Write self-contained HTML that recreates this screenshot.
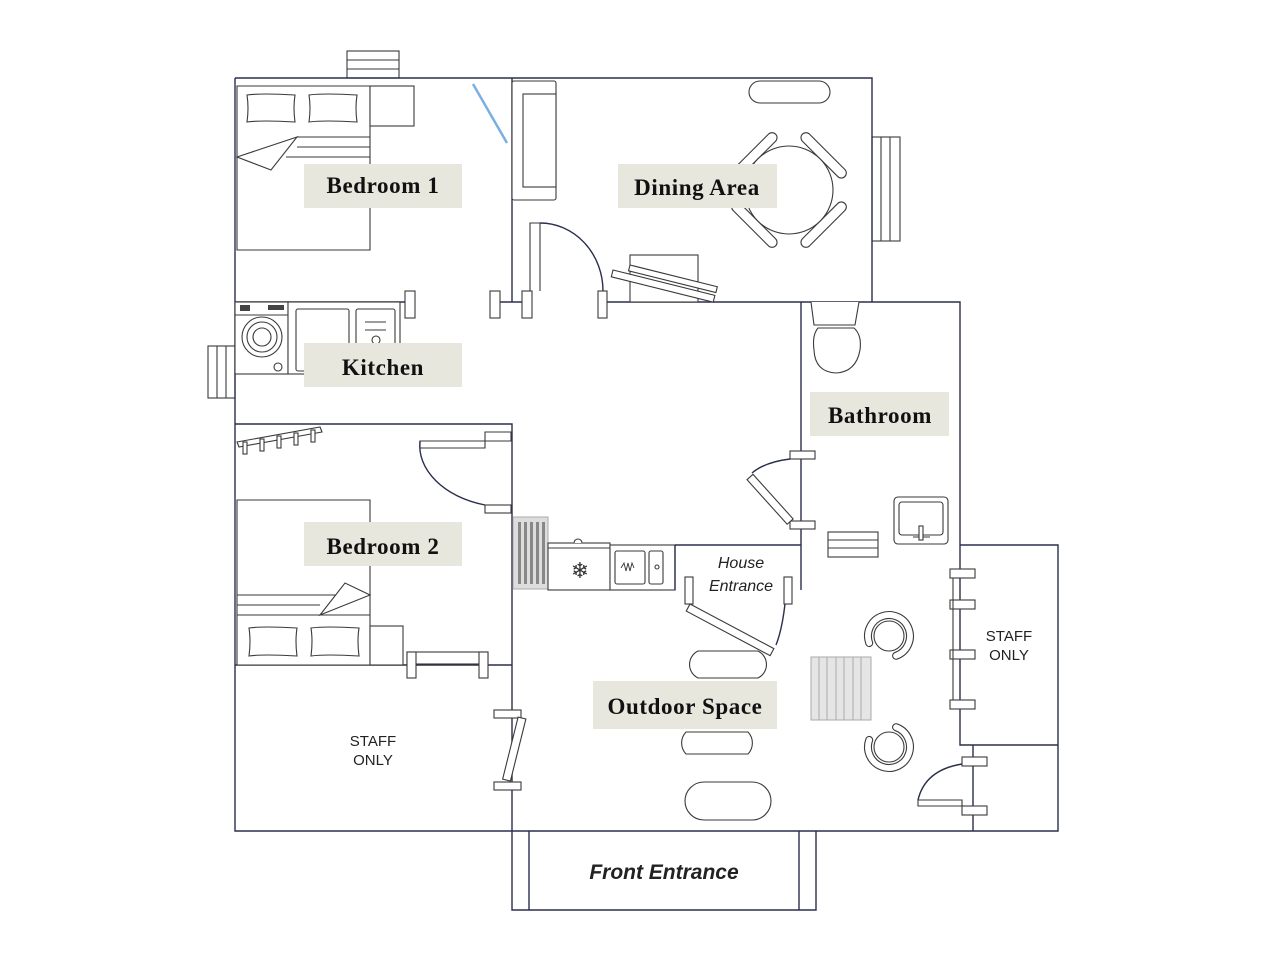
<!DOCTYPE html>
<html><head><meta charset="utf-8"><style>
html,body{margin:0;padding:0;background:#fff;}
svg{display:block}
.w{stroke:#2b2f4c;stroke-width:1.4;fill:none}
.f{stroke:#3a3a3a;stroke-width:1.1;fill:#fff}
.l{font-family:"Liberation Serif",serif;font-weight:bold;font-size:23px;letter-spacing:0.6px;fill:#111}
.lb{fill:#e7e7de}
.s{font-family:"Liberation Sans",sans-serif;font-size:15px;fill:#222}
.i{font-family:"Liberation Sans",sans-serif;font-style:italic;font-size:16px;fill:#222}
</style></head><body>
<svg width="1279" height="960" viewBox="0 0 1279 960" xmlns="http://www.w3.org/2000/svg">
<!-- windows -->
<rect class="f" x="347" y="51" width="52" height="27"/><line class="f" x1="347" y1="60" x2="399" y2="60"/><line class="f" x1="347" y1="69" x2="399" y2="69"/>
<rect class="f" x="872" y="137" width="28" height="104"/><line class="f" x1="881" y1="137" x2="881" y2="241"/><line class="f" x1="890" y1="137" x2="890" y2="241"/>
<rect class="f" x="208" y="346" width="27" height="52"/><line class="f" x1="217" y1="346" x2="217" y2="398"/><line class="f" x1="226" y1="346" x2="226" y2="398"/>
<rect class="f" x="828" y="532" width="50" height="25"/><line class="f" x1="828" y1="540" x2="878" y2="540"/><line class="f" x1="828" y1="548" x2="878" y2="548"/>

<!-- walls -->
<path class="w" d="M235 78 H872 V302 M235 78 V831 H1058 V545 H960 V302 H801 V590 M512 78 V302 M490 302 H525 M606 302 H872 M235 302 H405 M235 424 H512 V831 M235 665 H512 M960 545 V745 H1058 M973 745 V831 M675 545 H801 M512 831 V910 H816 V831 M529 831 V910 M799 831 V910"/>

<!-- Bedroom 1 -->
<path class="f" d="M237 86 H370 V250 H237 Z"/>
<rect class="f" x="370" y="86" width="44" height="40"/>
<path class="f" d="M247 95 Q262 93 295 95 Q293 108 295 122 Q262 120 247 122 Q249 108 247 95Z"/>
<path class="f" d="M309 95 Q324 93 357 95 Q355 108 357 122 Q324 120 309 122 Q311 108 309 95Z"/>
<path class="f" d="M297 137 H370 M297 147 H370 M286 157 H370"/>
<path class="f" d="M297 137 L237 157 L271 170 L297 137Z"/>
<line x1="473" y1="84" x2="507" y2="143" stroke="#7ab0e0" stroke-width="2.5"/>
<!-- Dining -->
<rect class="f" x="512" y="81" width="44" height="119" rx="2"/><rect class="f" x="523" y="94" width="33" height="93"/>
<rect class="f" x="749" y="81" width="81" height="22" rx="11"/>
<g transform="translate(789,190)">
<g transform="rotate(45)"><rect class="f" x="-49" y="-8" width="14" height="16" /><rect class="f" x="-54" y="-30" width="10" height="60" rx="5"/></g>
<g transform="rotate(135)"><rect class="f" x="-49" y="-8" width="14" height="16" /><rect class="f" x="-54" y="-30" width="10" height="60" rx="5"/></g>
<g transform="rotate(225)"><rect class="f" x="-49" y="-8" width="14" height="16" /><rect class="f" x="-54" y="-30" width="10" height="60" rx="5"/></g>
<g transform="rotate(315)"><rect class="f" x="-49" y="-8" width="14" height="16" /><rect class="f" x="-54" y="-30" width="10" height="60" rx="5"/></g>
<circle class="f" r="44"/></g>
<rect class="f" x="630" y="255" width="68" height="47"/>
<rect class="f" x="613" y="270" width="105" height="7" transform="rotate(14 613 270)"/>
<rect class="f" x="630" y="265" width="90" height="6" transform="rotate(14 630 265)"/>
<!-- dining door -->
<path class="f" d="M530 291 V223 H540 V291"/>
<path class="w" d="M540 223 A63 68 0 0 1 603 291" stroke-width="1.1"/>
<rect class="f" x="490" y="291" width="10" height="27"/><rect class="f" x="522" y="291" width="10" height="27"/><rect class="f" x="598" y="291" width="9" height="27"/>
<!-- Kitchen -->
<rect class="f" x="405" y="291" width="10" height="27"/>
<rect class="f" x="235" y="302" width="53" height="72"/><rect class="f" x="288" y="302" width="112" height="72"/>
<circle class="f" cx="262" cy="337" r="20"/><circle class="f" cx="262" cy="337" r="15"/><circle class="f" cx="262" cy="337" r="9"/><circle class="f" cx="278" cy="367" r="4"/>
<line class="f" x1="235" y1="315" x2="288" y2="315"/><rect x="240" y="305" width="10" height="6" fill="#444"/><rect x="268" y="305" width="16" height="5" fill="#444"/>
<rect class="f" x="296" y="309" width="53" height="62" rx="2"/><rect class="f" x="356" y="309" width="39" height="62" rx="2"/>
<line class="f" x1="365" y1="322" x2="386" y2="322"/><line class="f" x1="365" y1="330" x2="386" y2="330"/><circle class="f" cx="376" cy="340" r="4"/>
<!-- Bedroom 2 -->
<path class="f" d="M237 442 L320 427 L322 432 L239 447Z"/>
<g class="f"><rect x="243" y="442" width="4" height="12"/><rect x="260" y="439" width="4" height="12"/><rect x="277" y="436" width="4" height="12"/><rect x="294" y="433" width="4" height="12"/><rect x="311" y="430" width="4" height="12"/></g>
<path class="f" d="M420 441 H485 V432 H511 V441 H485 V448 H420 Z"/>
<path class="w" stroke-width="1.1" d="M420 441 A92 62 0 0 0 485 505"/>
<rect class="f" x="485" y="505" width="26" height="8"/>
<path class="f" d="M237 500 H370 V665 H237 Z"/>
<path class="f" d="M237 595 H370 M237 605 H320 M237 615 H370"/>
<path class="f" d="M320 615 L345 583 L370 595 Z"/>
<path class="f" d="M249 628 Q264 626 297 628 Q295 641 297 656 Q264 654 249 656 Q251 641 249 628Z"/>
<path class="f" d="M311 628 Q326 626 359 628 Q357 641 359 656 Q326 654 311 656 Q313 641 311 628Z"/>
<rect class="f" x="370" y="626" width="33" height="39"/>
<rect class="f" x="407" y="652" width="81" height="12"/><rect class="f" x="407" y="652" width="9" height="26"/><rect class="f" x="479" y="652" width="9" height="26"/>
<!-- staff left door -->
<rect class="f" x="494" y="710" width="27" height="8"/><rect class="f" x="494" y="782" width="27" height="8"/>
<rect class="f" x="518" y="718" width="8" height="64" transform="rotate(14 522 718)"/>
<text class="s" x="373" y="746" text-anchor="middle">STAFF</text><text class="s" x="373" y="765" text-anchor="middle">ONLY</text>
<!-- kitchen counter -->
<rect x="513" y="517" width="35" height="72" fill="#ddd" stroke="#aaa"/>
<g fill="#888"><rect x="518" y="522" width="3" height="62"/><rect x="524" y="522" width="3" height="62"/><rect x="530" y="522" width="3" height="62"/><rect x="536" y="522" width="3" height="62"/><rect x="542" y="522" width="3" height="62"/></g>
<rect class="f" x="548" y="543" width="62" height="47"/><line class="f" x1="548" y1="548" x2="610" y2="548"/>
<path class="f" d="M574 543 A4 4 0 0 1 582 543"/>
<text x="580" y="578" font-size="22" text-anchor="middle" fill="#333" font-family="DejaVu Sans">❄</text>
<rect class="f" x="610" y="545" width="65" height="45"/><rect class="f" x="615" y="551" width="30" height="33" rx="2"/><rect class="f" x="649" y="551" width="14" height="33" rx="2"/>
<path d="M621 568 l3 -5 l2 8 l2 -8 l2 8 l2 -8 l2 5" stroke="#333" fill="none" stroke-width="0.9"/><circle class="f" cx="657" cy="567" r="2"/>
<line class="w" x1="675" y1="545" x2="675" y2="590"/>
<text class="i" x="741" y="568" text-anchor="middle">House</text><text class="i" x="741" y="591" text-anchor="middle">Entrance</text>
<!-- house entrance door -->
<rect class="f" x="685" y="577" width="8" height="27"/><rect class="f" x="784" y="577" width="8" height="27"/>
<rect class="f" x="690" y="604" width="95" height="8" transform="rotate(28 690 604)"/>
<path class="w" stroke-width="1.1" d="M785 604 Q782 630 776 645"/>
<!-- bathroom door -->
<rect class="f" x="790" y="451" width="25" height="8"/><rect class="f" x="790" y="521" width="25" height="8"/>
<rect class="f" x="746" y="477" width="8" height="60" transform="rotate(-42 750 477)"/>
<path class="w" stroke-width="1.1" d="M790 459 Q765 462 752 473"/>
<!-- toilet -->
<path class="f" d="M811 302 L814 325 H855 L859 302"/>
<path class="f" d="M818 328 H854 Q862 335 860 350 Q856 372 836 373 Q815 372 814 350 Q812 335 818 328Z"/>
<!-- sink -->
<rect class="f" x="894" y="497" width="54" height="47" rx="4"/><rect class="f" x="899" y="502" width="44" height="33" rx="3"/>
<line class="f" x1="913" y1="537" x2="930" y2="537"/><rect class="f" x="919" y="526" width="4" height="14"/>
<!-- outdoor furniture -->
<path class="f" d="M698 651 H758 A15 15 0 0 1 758 678 H698 A15 15 0 0 1 698 651Z"/>
<path class="f" d="M686 732 H748 A16 16 0 0 1 748 754 H686 A16 16 0 0 1 686 732Z"/>
<rect class="f" x="685" y="782" width="86" height="38" rx="19"/>
<rect x="811" y="657" width="60" height="63" fill="#e5e5e5" stroke="#aaa"/>
<g stroke="#aaa"><line x1="819" y1="657" x2="819" y2="720"/><line x1="827" y1="657" x2="827" y2="720"/><line x1="836" y1="657" x2="836" y2="720"/><line x1="844" y1="657" x2="844" y2="720"/><line x1="853" y1="657" x2="853" y2="720"/><line x1="861" y1="657" x2="861" y2="720"/></g>
<!-- armchairs -->
<g transform="translate(889,636) rotate(-45)">
<path d="M-19 -9 A21 21 0 1 1 -9 19" fill="none" stroke="#3a3a3a" stroke-width="8" stroke-linecap="round"/>
<path d="M-19 -9 A21 21 0 1 1 -9 19" fill="none" stroke="#fff" stroke-width="5.8" stroke-linecap="round"/>
<circle class="f" r="15"/></g>
<g transform="translate(889,747) rotate(45)">
<path d="M-9 -19 A21 21 0 1 1 -19 9" fill="none" stroke="#3a3a3a" stroke-width="8" stroke-linecap="round"/>
<path d="M-9 -19 A21 21 0 1 1 -19 9" fill="none" stroke="#fff" stroke-width="5.8" stroke-linecap="round"/>
<circle class="f" r="15"/></g>
<!-- staff right -->
<rect class="f" x="950" y="569" width="25" height="9"/><rect class="f" x="950" y="600" width="25" height="9"/><rect class="f" x="950" y="650" width="25" height="9"/><rect class="f" x="950" y="700" width="25" height="9"/>
<line class="f" x1="953" y1="578" x2="953" y2="700"/>
<text class="s" x="1009" y="641" text-anchor="middle">STAFF</text><text class="s" x="1009" y="660" text-anchor="middle">ONLY</text>
<rect class="f" x="962" y="757" width="25" height="9"/>
<path class="f" d="M918 800 H962 V806 H918Z"/><rect class="f" x="962" y="806" width="25" height="9"/>
<path class="w" stroke-width="1.1" d="M962 764 Q925 770 918 800"/>
<!-- labels -->
<rect class="lb" x="304" y="164" width="158" height="44"/><text class="l" x="383" y="193" text-anchor="middle">Bedroom 1</text>
<rect class="lb" x="618" y="164" width="159" height="44"/><text class="l" x="697" y="195" text-anchor="middle">Dining Area</text>
<rect class="lb" x="304" y="343" width="158" height="44"/><text class="l" x="383" y="375" text-anchor="middle">Kitchen</text>
<rect class="lb" x="810" y="392" width="139" height="44"/><text class="l" x="880" y="423" text-anchor="middle">Bathroom</text>
<rect class="lb" x="304" y="522" width="158" height="44"/><text class="l" x="383" y="554" text-anchor="middle">Bedroom 2</text>
<rect class="lb" x="593" y="681" width="184" height="48"/><text class="l" x="685" y="714" text-anchor="middle">Outdoor Space</text>
<text x="664" y="879" text-anchor="middle" font-family="Liberation Sans,sans-serif" font-style="italic" font-weight="bold" font-size="21" fill="#222">Front Entrance</text>
</svg>
</body></html>
